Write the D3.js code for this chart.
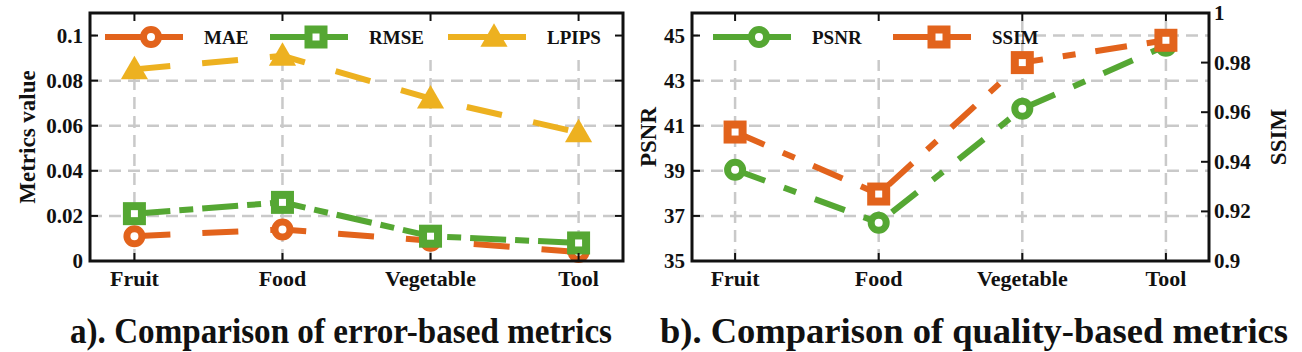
<!DOCTYPE html>
<html>
<head>
<meta charset="utf-8">
<script src="https://cdn.jsdelivr.net/npm/d3@7"></script>
</head>
<body style="margin:0">
<script>
// values
var categories = ["Fruit", "Food", "Vegetable", "Tool"];
var mae   = [0.011, 0.014, 0.009, 0.004];
var rmse  = [0.021, 0.026, 0.011, 0.008];
var lpips = [0.085, 0.091, 0.072, 0.057];
var psnr  = [39.05, 36.7, 41.75, 44.55];
var ssim  = [0.952, 0.927, 0.980, 0.989];

var errorTicks = [0, 0.02, 0.04, 0.06, 0.08, 0.1];
var psnrTicks = [35, 37, 39, 41, 43, 45];
var ssimTicks = [0.9, 0.92, 0.94, 0.96, 0.98, 1];

var orange = "#e2631c", green = "#55a733", yellow = "#edb120";
var dashed = "36,32", dashDot = "36,9,14,9", dashDot2 = "32,20,13,20";

var svg = d3.select("body").append("svg")
    .attr("width", 1302)
    .attr("height", 352);

function fmt(v) {
    return v === 0 ? "0" : String(+v.toFixed(2));
}

function label(g, size) {
    return g.append("text")
        .attr("style", "font: bold " + size + "px 'Liberation Serif'; fill: #111");
}

function drawMarker(g, type, color, x, y) {
    if (type == "circle") {
        g.append("circle").attr("cx", x).attr("cy", y).attr("r", 7.5)
            .attr("fill", "#fff").attr("stroke", color).attr("stroke-width", 7);
    } else if (type == "square") {
        g.append("rect").attr("x", x - 7.5).attr("y", y - 7.5).attr("width", 15).attr("height", 15)
            .attr("fill", "#fff").attr("stroke", color).attr("stroke-width", 8);
    } else {
        g.append("path").attr("d", d3.symbol(d3.symbolTriangle, 320)())
            .attr("transform", "translate(" + x + "," + (y + 2) + ")")
            .attr("fill", color);
    }
}

// *****************************
// p - panel config: box, scales, series, legend, labels
// *****************************
function drawPanel(p) {
    var g = svg.append("g");
    var x = d3.scalePoint().domain(categories).range([p.x0, p.x1]).padding(0.3);
    var y = d3.scaleLinear().domain(p.yDomain).range([261, 13]);

    // grid
    g.selectAll(".hgrid").data(p.yTicks.filter(function (t) { return t > p.yDomain[0]; }))
        .enter().append("line")
        .attr("x1", p.x0).attr("x2", p.x1)
        .attr("y1", d => y(d)).attr("y2", d => y(d))
        .attr("stroke", "#c9c9c9").attr("stroke-width", 2.5).attr("stroke-dasharray", "12,7");
    g.selectAll(".vgrid").data(categories).enter().append("line")
        .attr("x1", d => x(d)).attr("x2", d => x(d))
        .attr("y1", 261).attr("y2", 13)
        .attr("stroke", "#c9c9c9").attr("stroke-width", 2.5).attr("stroke-dasharray", "12,7");

    // legend background hides the grid behind it
    g.append("rect").attr("x", p.legendBox[0]).attr("y", 15)
        .attr("width", p.legendBox[1] - p.legendBox[0]).attr("height", 45)
        .attr("fill", "#fff");

    // series
    p.series.forEach(function (s) {
        var sy = s.scale || y;
        var line = d3.line().x((d, i) => x(categories[i])).y(d => sy(d));
        g.append("path").datum(s.values)
            .attr("d", line)
            .attr("fill", "none")
            .attr("stroke", s.color)
            .attr("stroke-width", 6)
            .attr("stroke-dasharray", s.dash);
        s.values.forEach(function (v, i) {
            drawMarker(g, s.marker, s.color, x(categories[i]), sy(v));
        });
    });

    // legend
    p.series.forEach(function (s, k) {
        var lx = p.legendX[k];
        g.append("line").attr("x1", lx).attr("x2", lx + 78)
            .attr("y1", 37).attr("y2", 37)
            .attr("stroke", s.color).attr("stroke-width", 6);
        drawMarker(g, s.marker, s.color, lx + 46, 37);
        label(g, 19).attr("x", lx + 99).attr("y", 44).text(s.name);
    });

    // frame
    g.append("rect").attr("x", p.x0).attr("y", 13)
        .attr("width", p.x1 - p.x0).attr("height", 248)
        .attr("fill", "none").attr("stroke", "#111").attr("stroke-width", 3);

    // x ticks and labels
    categories.forEach(function (c) {
        g.append("line").attr("x1", x(c)).attr("x2", x(c)).attr("y1", 261).attr("y2", 253)
            .attr("stroke", "#111").attr("stroke-width", 2);
        g.append("line").attr("x1", x(c)).attr("x2", x(c)).attr("y1", 13).attr("y2", 21)
            .attr("stroke", "#111").attr("stroke-width", 2);
        label(g, 22).attr("x", x(c)).attr("y", 286)
            .attr("text-anchor", "middle").text(c);
    });

    // left axis ticks
    p.yTicks.forEach(function (t) {
        g.append("line").attr("x1", p.x0).attr("x2", p.x0 + 8).attr("y1", y(t)).attr("y2", y(t))
            .attr("stroke", "#111").attr("stroke-width", 2);
        label(g, 21).attr("x", p.x0 - 7).attr("y", y(t) + 7)
            .attr("text-anchor", "end").text(p.yFormat(t));
    });

    // right axis ticks
    var ry = p.rightScale || y;
    var rTicks = p.rightTicks || p.yTicks;
    rTicks.forEach(function (t) {
        g.append("line").attr("x1", p.x1).attr("x2", p.x1 - 8).attr("y1", ry(t)).attr("y2", ry(t))
            .attr("stroke", "#111").attr("stroke-width", 2);
        if (p.rightScale) {
            label(g, 21).attr("x", p.x1 + 5).attr("y", ry(t) + 7).text(fmt(t));
        }
    });

    // axis labels
    label(g, 23).attr("transform", "translate(" + p.yLabelX + ",137) rotate(-90)")
        .attr("text-anchor", "middle").text(p.yLabel);
    if (p.rightLabel) {
        label(g, 23).attr("transform", "translate(1286,137) rotate(-90)")
            .attr("text-anchor", "middle").text(p.rightLabel);
    }

    // caption (squeezed like the original figure)
    label(g, 35).attr("x", p.titleX).attr("y", 343)
        .attr("text-anchor", "middle")
        .attr("textLength", p.titleW).attr("lengthAdjust", "spacingAndGlyphs")
        .text(p.title);
}

drawPanel({
    x0: 90, x1: 623,
    yDomain: [0, 0.11],
    yTicks: errorTicks,
    yFormat: fmt,
    yLabel: "Metrics value", yLabelX: 35,
    legendBox: [96, 617],
    legendX: [105, 270, 448],
    series: [
        {name: "MAE", values: mae, color: orange, marker: "circle", dash: dashed},
        {name: "RMSE", values: rmse, color: green, marker: "square", dash: dashDot},
        {name: "LPIPS", values: lpips, color: yellow, marker: "triangle", dash: dashed}
    ],
    title: "a). Comparison of error-based metrics", titleX: 341, titleW: 542
});

var ssimScale = d3.scaleLinear().domain([0.9, 1]).range([261, 13]);

drawPanel({
    x0: 692, x1: 1209,
    yDomain: [35, 46],
    yTicks: psnrTicks,
    yFormat: d => String(d),
    yLabel: "PSNR", yLabelX: 656,
    rightScale: ssimScale, rightTicks: ssimTicks, rightLabel: "SSIM",
    legendBox: [698, 1010],
    legendX: [713, 893],
    series: [
        {name: "PSNR", values: psnr, color: green, marker: "circle", dash: dashDot2},
        {name: "SSIM", values: ssim, color: orange, marker: "square", dash: dashDot2, scale: ssimScale}
    ],
    title: "b). Comparison of quality-based metrics", titleX: 974, titleW: 628
});
</script>
</body>
</html>
